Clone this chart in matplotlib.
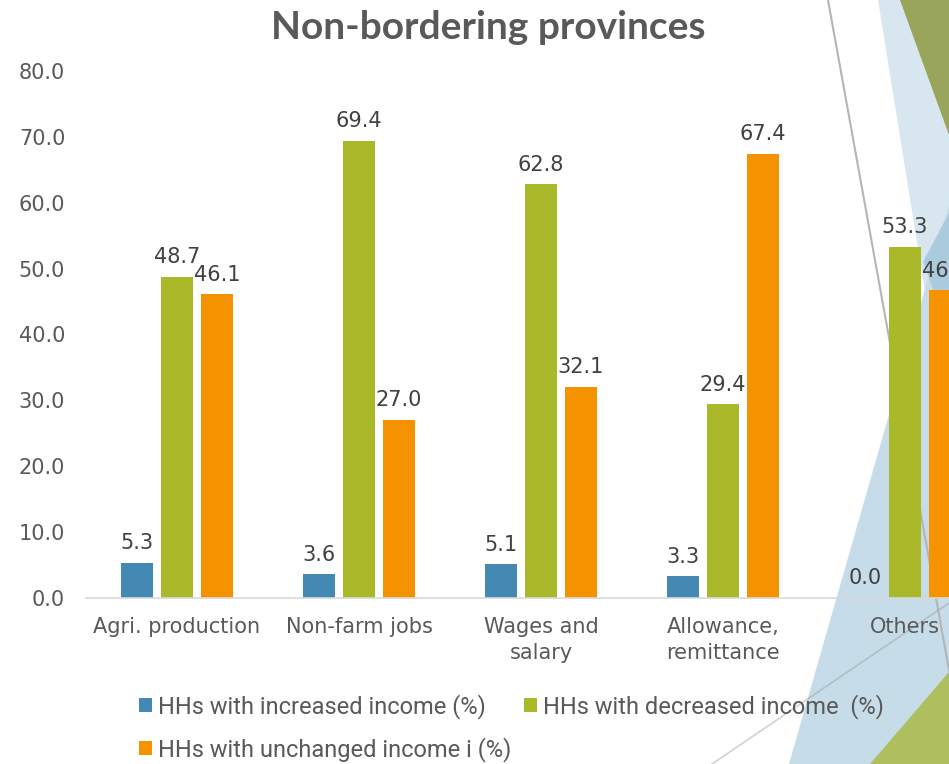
import matplotlib.pyplot as plt
from matplotlib.patches import Polygon
import numpy as np

categories = ["Agri. production", "Non-farm jobs", "Wages and\nsalary",
              "Allowance,\nremittance", "Others"]
increased = [5.3, 3.6, 5.1, 3.3, 0.0]
decreased = [48.7, 69.4, 62.8, 29.4, 53.3]
unchanged = [46.1, 27.0, 32.1, 67.4, 46.7]
series_names = ["HHs with increased income (%)",
                "HHs with decreased income  (%)",
                "HHs with unchanged income i (%)"]
colors = ["#4389b4", "#a9b929", "#f59200"]

W, H = 949, 764
fig = plt.figure(figsize=(W / 100, H / 100), dpi=100)

# slide decoration in pixel coordinates
bg = fig.add_axes([0, 0, 1, 1], zorder=0)
bg.set_xlim(0, W)
bg.set_ylim(H, 0)
bg.axis("off")
bg.add_patch(Polygon([(878, 0), (W, 0), (W, H), (1001, H)], color="#d8e7ef", lw=0))
bg.add_patch(Polygon([(W, 205), (W, H), (789, H)], color="#c6dce9", lw=0))
bg.add_patch(Polygon([(923, 262), (W, 213), (W, 330)], color="#aacadd", lw=0))
bg.add_patch(Polygon([(900, 0), (W, 0), (W, 135)], color="#98a55a", lw=0))
bg.add_patch(Polygon([(870, H), (W, 672), (W, H)], color="#afbf5f", lw=0))
bg.plot([828, 966], [0, 764], color="#b5b5b5", lw=1.5)
bg.plot([712, 949], [764, 603], color="#9a9a9a", lw=1.2, alpha=0.45)

ax = fig.add_axes([86 / W, 166 / H, 910 / W, 527 / H], zorder=1)
ax.set_facecolor("none")

x = np.arange(len(categories))
w = 0.176
off = 0.22
for i, vals in enumerate([increased, decreased, unchanged]):
    bars = ax.bar(x + (i - 1) * off, vals, w, color=colors[i], label=series_names[i])
    for b, v in zip(bars, vals):
        ax.annotate(f"{v:.1f}", (b.get_x() + b.get_width() / 2, v),
                    xytext=(0, 7), textcoords="offset points",
                    ha="center", va="bottom", fontsize=15, color="#404040")

ax.set_xlim(-0.5, 4.5)
ax.set_ylim(0, 80)
ax.set_yticks(np.arange(0, 81, 10))
ax.set_yticklabels([f"{v:.1f}" for v in np.arange(0, 81, 10)])
ax.set_xticks(x)
ax.set_xticklabels(categories, linespacing=1.35)
ax.tick_params(axis="both", length=0, labelsize=15, labelcolor="#595959")
ax.tick_params(axis="y", pad=15)
ax.tick_params(axis="x", pad=14)
for s in ["top", "right", "left"]:
    ax.spines[s].set_visible(False)
ax.spines["bottom"].set_color("#d9d9d9")
ax.spines["bottom"].set_linewidth(1.2)

fig.text(488 / W, 1 - 39 / H, "Non-bordering provinces", ha="center", va="baseline",
         fontsize=28, fontweight="bold", color="#595959", family="Lato")

handles, labels = ax.get_legend_handles_labels()
order = [0, 2, 1]
ax.legend([handles[k] for k in order], [labels[k] for k in order],
          ncol=2, loc="upper left", bbox_to_anchor=(139 / W, 1 - 694 / H),
          bbox_transform=fig.transFigure, frameon=False,
          prop={"family": "Roboto", "size": 17},
          labelcolor="#595959", handlelength=0.55, handleheight=0.55,
          handletextpad=0.25, columnspacing=0.55, labelspacing=0.75,
          borderaxespad=0, borderpad=0)

fig.savefig("out.png", dpi=100)
